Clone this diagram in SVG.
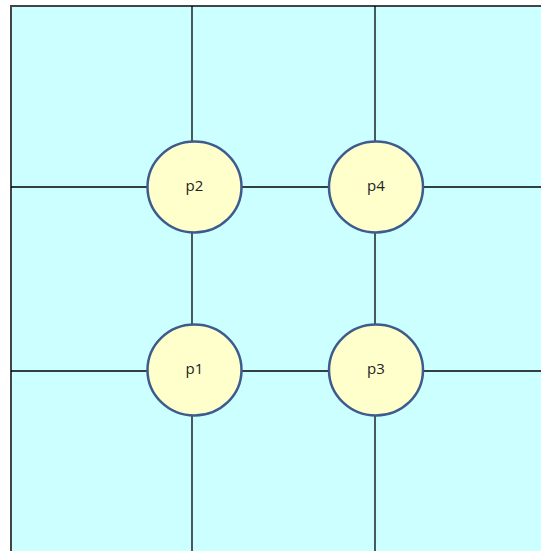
<svg xmlns="http://www.w3.org/2000/svg" width="541" height="551" viewBox="0 0 541 551">
<style>
.edge{stroke:#000;stroke-width:1.3;fill:none}
.node ellipse{fill:#FFFFCC;stroke:#3E5B8E;stroke-width:2.5}
.node text{font-family:"Open Sans","Liberation Sans",sans-serif;font-size:15px;fill:#222;text-anchor:middle;dominant-baseline:central}
</style>
<rect x="0" y="0" width="541" height="551" fill="#fff"/>
<rect x="11" y="6" width="540" height="560" fill="#CCFFFF" stroke="#444" stroke-width="2"/>
<g id="connectors">
<line class="edge" x1="192" y1="6" x2="192" y2="551"/>
<line class="edge" x1="375" y1="6" x2="375" y2="551"/>
<line class="edge" x1="11" y1="187" x2="541" y2="187"/>
<line class="edge" x1="11" y1="371" x2="541" y2="371"/>
</g>
<g id="p2" class="node"><ellipse cx="194.5" cy="187" rx="47" ry="45.5"/><text x="194.5" y="185">p2</text></g>
<g id="p4" class="node"><ellipse cx="376" cy="187" rx="47" ry="45.5"/><text x="376" y="185">p4</text></g>
<g id="p1" class="node"><ellipse cx="194.5" cy="370" rx="47" ry="45.5"/><text x="194.5" y="368">p1</text></g>
<g id="p3" class="node"><ellipse cx="376" cy="370" rx="47" ry="45.5"/><text x="376" y="368">p3</text></g>
</svg>
